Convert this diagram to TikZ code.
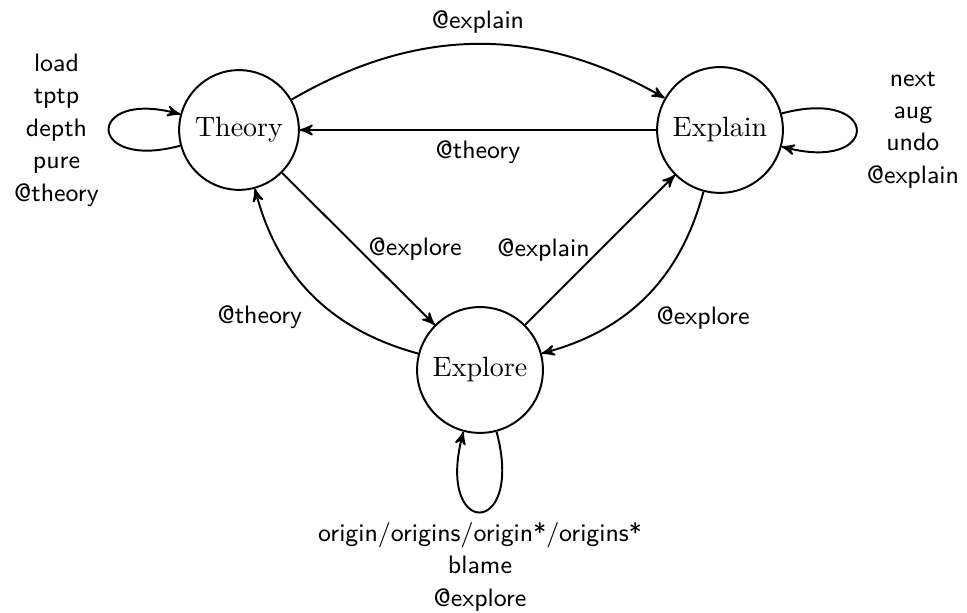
\documentclass[tikz,border=0pt]{standalone}
\usetikzlibrary{arrows}
\begin{document}
\begin{tikzpicture}[x=0.35714pt,y=0.35714pt,
  state/.style={circle,draw,line width=0.7pt,inner sep=4pt},
  lbl/.style={font=\fontsize{9}{11.6}\selectfont\sffamily,align=center},
  edge/.style={->,>=stealth',line width=0.7pt}]
\useasboundingbox (0,0) rectangle (967,613);
\node[state] (T) at (239,483) {Theory};
\node[state] (X) at (720,483) {Explain};
\node[state] (E) at (480,243) {Explore};
\draw[edge] (T) to[bend left=30] node[lbl,above] {@explain} (X);
\draw[edge] (X) -- node[lbl,below] {@theory} (T);
\draw[edge] (T) -- node[lbl,right] {@explore} (E);
\draw[edge] (E) -- node[lbl,left] {@explain} (X);
\draw[edge] (X) to[bend left=30] node[lbl,below right] {@explore} (E);
\draw[edge] (E) to[bend left=30] node[lbl,below left] {@theory} (T);
\draw[edge] (T) to[loop left] node[lbl,left] {load\\tptp\\depth\\pure\\@theory} (T);
\draw[edge] (X) to[loop right] node[lbl,right] {next\\aug\\undo\\@explain} (X);
\draw[edge] (E) to[out=-75,in=-105,looseness=8.6,min distance=5mm] node[lbl,below] {origin/origins/origin*/origins*\\blame\\@explore} (E);
\end{tikzpicture}
\end{document}
